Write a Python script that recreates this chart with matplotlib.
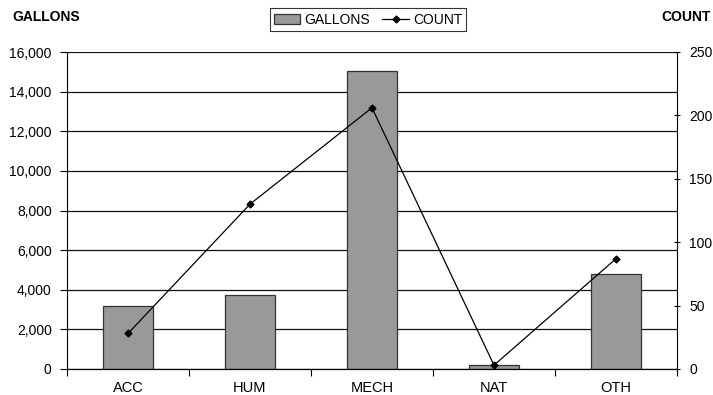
import matplotlib
matplotlib.use("Agg")
import matplotlib.pyplot as plt
import numpy as np
from matplotlib.ticker import FuncFormatter

plt.rcParams["font.family"] = ["Liberation Sans", "DejaVu Sans"]

categories = ["ACC", "HUM", "MECH", "NAT", "OTH"]
gallons = [3200, 3750, 15050, 190, 4780]
counts = [28, 130, 206, 3, 87]

fig = plt.figure(figsize=(7.13, 3.95), dpi=100)
ax = fig.add_axes([67 / 713, 1 - 369 / 395, 610 / 713, 317 / 395])
x = np.arange(len(categories))

ax.set_axisbelow(True)
ax.yaxis.grid(True, color="#111111", linewidth=0.9)
bars = ax.bar(x, gallons, width=0.41, color="#999999", edgecolor="#333333",
              linewidth=0.9, label="GALLONS", zorder=2)
ax.set_xlim(-0.5, len(categories) - 0.5)
ax.set_ylim(0, 16000)
ax.set_yticks(np.arange(0, 16001, 2000))
ax.yaxis.set_major_formatter(FuncFormatter(lambda v, p: f"{int(v):,}"))
ax.set_xticks(x)
ax.set_xticklabels(categories)
ax.set_xticks(np.arange(-0.5, len(categories) - 0.4, 1), minor=True)
ax.tick_params(axis="x", which="major", length=0, pad=9, labelsize=10.5)
ax.tick_params(axis="x", which="minor", length=5, direction="out", width=0.8)
ax.tick_params(axis="y", labelsize=10, length=5, width=0.8, pad=6)
ax.spines["top"].set_visible(False)
ax.spines["right"].set_visible(False)

ax2 = ax.twinx()
line, = ax2.plot(x, counts, color="black", linewidth=0.9, marker="D",
                 markersize=3.5, label="COUNT", zorder=3)
ax2.set_ylim(0, 250)
ax2.set_yticks(np.arange(0, 251, 50))
ax2.tick_params(axis="y", labelsize=10, length=4, direction="inout", width=0.8, pad=7)
ax2.spines["top"].set_visible(False)
ax2.spines["left"].set_visible(False)

fig.text(12 / 713, 1 - 17 / 395, "GALLONS", fontsize=10, fontweight="bold",
         ha="left", va="center")
fig.text(711 / 713, 1 - 17 / 395, "COUNT", fontsize=10, fontweight="bold",
         ha="right", va="center")

leg = fig.legend(handles=[bars, line], loc="center", bbox_to_anchor=(368 / 713, 1 - 19.5 / 395),
                 ncol=2, fontsize=10, frameon=True, fancybox=False, edgecolor="black",
                 handlelength=1.9, handletextpad=0.3, columnspacing=0.9,
                 borderpad=0.3, borderaxespad=0)
leg.get_frame().set_linewidth(0.8)

fig.savefig("out.png", dpi=100)
